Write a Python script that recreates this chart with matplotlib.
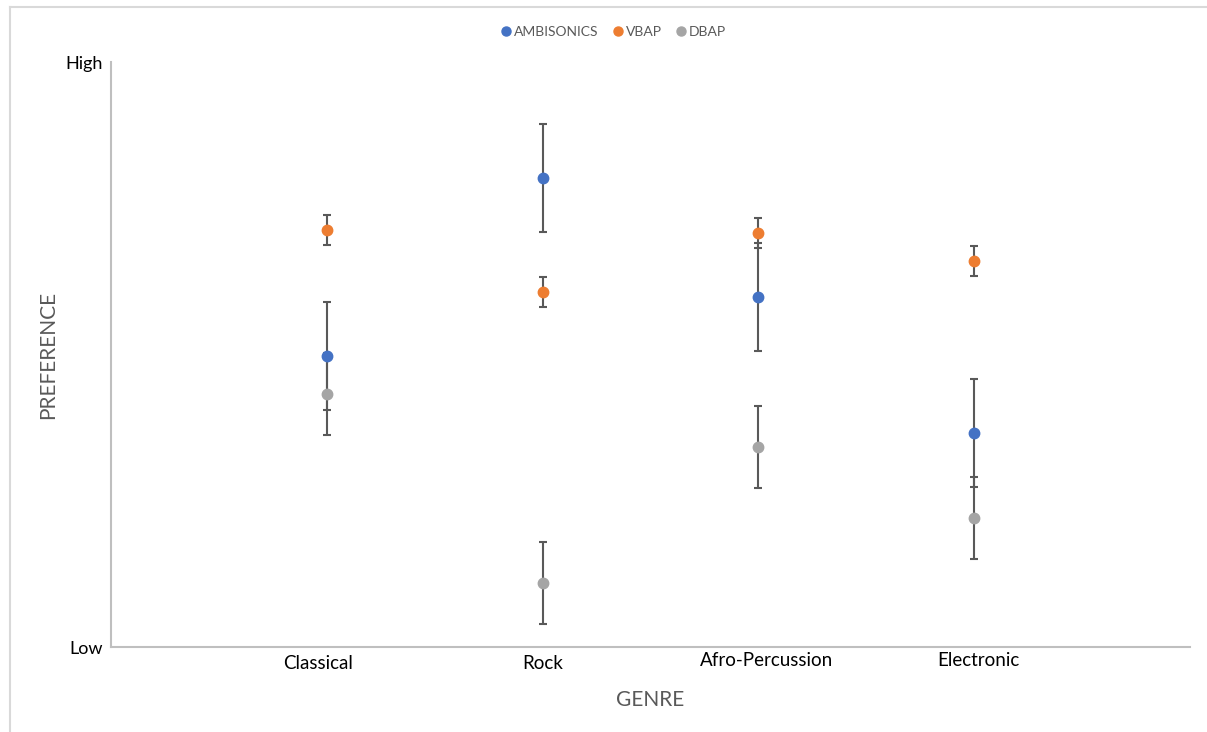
import numpy as np
import matplotlib.pyplot as plt
from matplotlib.lines import Line2D

plt.rcParams['font.family'] = ['Lato', 'DejaVu Sans']

genres = ['Classical', 'Rock', 'Afro-Percussion', 'Electronic']
series = ['AMBISONICS', 'VBAP', 'DBAP']
ambisonics = [0.497, 0.802, 0.598, 0.366]
vbap = [0.713, 0.607, 0.708, 0.660]
dbap = [0.432, 0.109, 0.342, 0.221]
err_amb = 0.092
err_vbap = 0.026
err_dbap = 0.070

colors = ['#4472C4', '#ED7D31', '#A5A5A5']
x = np.arange(1, len(genres) + 1)

fig = plt.figure(figsize=(12.07, 7.32), dpi=100)
ax = fig.add_axes([111 / 1207, 1 - 647 / 732, (1190 - 111) / 1207, (647 - 62) / 732])

# error bars first, markers on top of all of them
for vals, err in zip([ambisonics, vbap, dbap], [err_amb, err_vbap, err_dbap]):
    ax.errorbar(x, vals, yerr=err, fmt='none', ecolor='#595959',
                elinewidth=1.5, capsize=3.2, capthick=1.5, zorder=2)
for vals, c in zip([ambisonics, vbap, dbap], colors):
    ax.plot(x, vals, 'o', color=c, ms=7.5, mec=c, zorder=4)

ax.set_xlim(0, 5)
ax.set_ylim(0, 1)
ax.set_yticks([0, 1])
ax.set_yticklabels(['Low', 'High'], fontsize=13)
ax.tick_params(axis='y', length=0, pad=6)
ax.set_xticks([])

# category labels (slightly offset as in the original)
label_x = [0.958, 2.0, 3.04, 4.02]
label_y = [-0.028, -0.028, -0.023, -0.023]
for lx, ly, g in zip(label_x, label_y, genres):
    ax.text(lx, ly, g, ha='center', va='center', fontsize=13.5, transform=ax.transData)

for s in ['top', 'right']:
    ax.spines[s].set_visible(False)
for s in ['left', 'bottom']:
    ax.spines[s].set_color('#BFBFBF')
    ax.spines[s].set_linewidth(1.5)

fig.text(48 / 1207, 1 - 355 / 732, 'PREFERENCE', rotation=90, ha='center', va='center',
         fontsize=15, color='#595959')
fig.text(650 / 1207, 1 - 700 / 732, 'GENRE', ha='center', va='center',
         fontsize=15, color='#595959')

handles = [Line2D([], [], marker='o', ls='', color=c, ms=6.5) for c in colors]
fig.legend(handles, series, loc='center', bbox_to_anchor=(613 / 1207, 1 - 32 / 732),
           ncol=3, frameon=False, fontsize=10, handletextpad=0.15, columnspacing=0.9,
           handlelength=0.9, labelcolor='#595959')

# chart area border (top and left visible)
fig.add_artist(Line2D([9.5 / 1207, 9.5 / 1207], [0, 1 - 7 / 732], transform=fig.transFigure,
                      color='#D9D9D9', lw=1.5))
fig.add_artist(Line2D([9.5 / 1207, 1], [1 - 7 / 732, 1 - 7 / 732], transform=fig.transFigure,
                      color='#D9D9D9', lw=1.5))

fig.savefig('out.png', dpi=100)
